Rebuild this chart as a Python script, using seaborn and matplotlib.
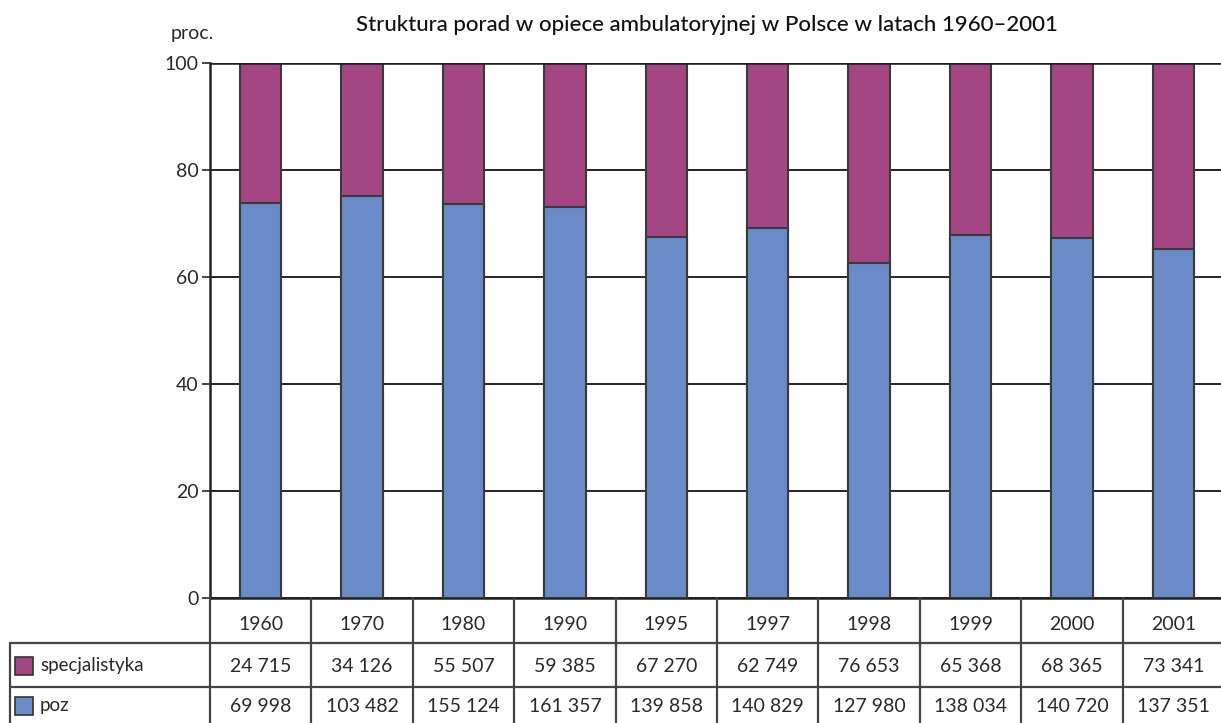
import matplotlib
matplotlib.use("Agg")
import matplotlib.pyplot as plt
import matplotlib.transforms as mtransforms
from matplotlib.patches import Rectangle
from matplotlib.lines import Line2D
import seaborn as sns
import pandas as pd

# ---- data ----
years = ["1960", "1970", "1980", "1990", "1995", "1997", "1998", "1999", "2000", "2001"]
specjalistyka = [24715, 34126, 55507, 59385, 67270, 62749, 76653, 65368, 68365, 73341]
poz = [69998, 103482, 155124, 161357, 139858, 140829, 127980, 138034, 140720, 137351]
yticks = [0, 20, 40, 60, 80, 100]
title = "Struktura porad w opiece ambulatoryjnej w Polsce w latach 1960–2001"
row_labels = ["specjalistyka", "poz"]

PURPLE = "#A34683"
BLUE = "#6A8BC8"
EDGE = "#3a3a3a"
TXT = "#2a2a2a"

sns.set_theme(style="white")
plt.rcParams['font.family'] = ['Lato', 'DejaVu Sans']

df = pd.DataFrame({"rok": years, "spec": specjalistyka, "poz": poz})
df["total"] = df["spec"] + df["poz"]
df["poz_pct"] = df["poz"] / df["total"] * 100
df["all_pct"] = 100.0

W, H = 1221, 723
fig = plt.figure(figsize=(W / 100, H / 100), dpi=100)
ax = fig.add_axes([210 / W, 125 / H, (1224 - 210) / W, 535 / H])

sns.barplot(data=df, x="rok", y="all_pct", color=PURPLE, saturation=1, width=0.41,
            edgecolor=EDGE, linewidth=1.5, ax=ax, zorder=3)
sns.barplot(data=df, x="rok", y="poz_pct", color=BLUE, saturation=1, width=0.41,
            edgecolor=EDGE, linewidth=1.5, ax=ax, zorder=3)

ax.set_xlim(-0.5, len(years) - 0.5)
ax.set_ylim(0, 100)
ax.set_yticks(yticks)
ax.set_yticklabels([str(t) for t in yticks], fontsize=14, color=TXT)
ax.set_xticks([])
ax.set_xlabel("")
ax.set_ylabel("")
ax.tick_params(axis="y", direction="out", length=6, width=1.3, color=EDGE, pad=2, left=True)
ax.set_axisbelow(True)
ax.yaxis.grid(True, color="#222222", linewidth=1.4, zorder=0)
for s in ["top", "right"]:
    ax.spines[s].set_visible(False)
ax.spines["left"].set_color("#222222")
ax.spines["left"].set_linewidth(1.8)
ax.spines["bottom"].set_color("#222222")
ax.spines["bottom"].set_linewidth(1.8)
ax.axhline(100, color="#222222", linewidth=2.6, zorder=5)

fig.text(707 / W, 1 - 25 / H, title, ha="center", va="center", fontsize=16,
         fontweight="medium", color="#111111")
fig.text(192 / W, 1 - 34 / H, "proc.", ha="center", va="center", fontsize=14, color=TXT)

# ---- data table ----
tr = mtransforms.blended_transform_factory(ax.transData, fig.transFigure)
LC = "#444444"
LW = 1.6
y_hdr_top = 125 / H
y_hdr_bot = (723 - 643) / H
y_row_bot = (723 - 687) / H

for i in range(len(years)):
    x = i - 0.5
    fig.add_artist(Line2D([x, x], [0, y_hdr_top], transform=tr, color=LC, lw=LW))
fig.add_artist(Line2D([10 / W, 10 / W], [0, y_hdr_bot], transform=fig.transFigure, color=LC, lw=LW))
for yy in [y_hdr_bot, y_row_bot]:
    fig.add_artist(Line2D([10 / W, 1224 / W], [yy, yy], transform=fig.transFigure, color=LC, lw=LW))

def fmt(v):
    return f"{v:,}".replace(",", " ")

for i, yr in enumerate(years):
    fig.text(i, 1 - 624 / H, yr, transform=tr, ha="center", va="center", fontsize=14, color=TXT)
    fig.text(i, 1 - 666 / H, fmt(specjalistyka[i]), transform=tr, ha="center", va="center",
             fontsize=14, color=TXT)
    fig.text(i, 1 - 706 / H, fmt(poz[i]), transform=tr, ha="center", va="center",
             fontsize=14, color=TXT)

for lab, col, yc in [(row_labels[0], PURPLE, 666), (row_labels[1], BLUE, 706)]:
    fig.add_artist(Rectangle((15 / W, 1 - (yc + 9) / H), 18 / W, 18 / H, transform=fig.transFigure,
                             facecolor=col, edgecolor="#333333", linewidth=1.2))
    fig.text(40 / W, 1 - yc / H, lab, ha="left", va="center", fontsize=13.5, color=TXT)

fig.savefig("out.png", dpi=100)
